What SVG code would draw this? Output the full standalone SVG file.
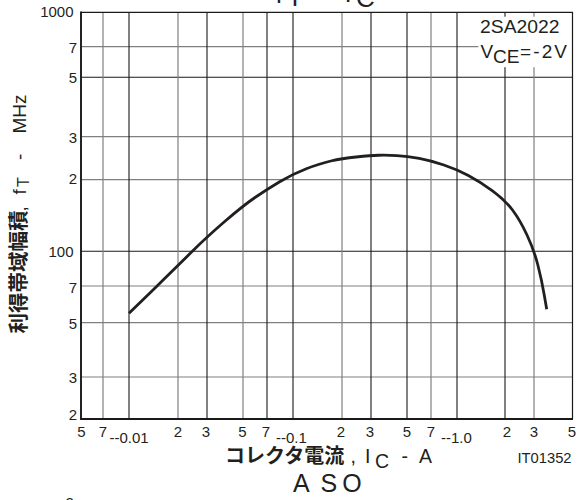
<svg xmlns="http://www.w3.org/2000/svg" width="577" height="500" viewBox="0 0 577 500">
<style>
.g1{stroke:#1a1a1a;stroke-width:1.1;fill:none}
.g2{stroke:#808080;stroke-width:1.2;fill:none}
.bd{stroke:#1a1a1a;fill:none}
.t{font-family:'Liberation Sans',Arial,sans-serif;fill:#231f20}
.tk{font-size:15px}
.jp{font-family:'Noto Sans CJK JP','Noto Sans CJK SC',sans-serif;font-weight:bold;fill:#231f20}
.cv{stroke:#231f20;stroke-width:2.8;fill:none;stroke-linejoin:round}
</style>
<rect width="577" height="500" fill="#fff"/>
<g id="title-top" class="t" font-size="26">
<text x="275.5" y="3">f</text>
<text x="287" y="6">T</text>
<text x="344.6" y="2">I</text>
<text x="356" y="6.5">C</text>
</g>
<g id="grid">
<path class="g2" d="M81,46.7H572.5M81,136.7H572.5M81,179.7H572.5M81,286H572.5M81,322.7H572.5M81,377H572.5"/>
<path class="g1" d="M81,77.3H572.5M81,251.3H572.5"/>
<path class="g2" d="M103,12.3V419M178,12.3V419M243,12.3V419M342,12.3V419M431,12.3V419M534,12.3V419"/>
<path class="g1" d="M129,12.3V419M207,12.3V419M267,12.3V419M293,12.3V419M371,12.3V419M407,12.3V419M457,12.3V419M505,12.3V419"/>
</g>
<rect id="legend-box" x="478.3" y="16.7" width="94" height="50.5" fill="#fff"/>
<g id="frame">
<path class="bd" stroke-width="1.2" d="M81,12.3H572.5V419"/>
<path class="bd" stroke-width="1.9" d="M81,11.5V419H573"/>
</g>
<g id="curve">
<path class="cv" d="M129,313.3 L153.5,289.4 Q178,265.5 192.35,251.25 Q206.7,237 225,221.25 Q243.3,205.5 255,197.5 Q266.7,189.5 279.7,181.75 Q292.7,174 306.35,168.75 Q320,163.5 330.85,161 Q341.7,158.5 356.2,157 Q370.7,155.5 378.7,155.25 Q386.7,155 397,155.6 Q407.3,156.2 419.15,158.45 Q431,160.7 443.85,165 Q456.7,169.3 468.35,175.5 Q480,181.7 492.5,190.85 Q505,200 512.5,210 Q520,220 527,235 Q534,250 537.85,265 Q541.7,280 544.2,294.65 L546.7,309.3"/>
</g>
<g id="legend" class="t">
<text x="480" y="33.3" font-size="19" textLength="79.5" lengthAdjust="spacingAndGlyphs">2SA2022</text>
<text y="58" font-size="19"><tspan x="480.5">V</tspan><tspan x="493" dy="4.5">CE</tspan><tspan x="520" dy="-4.5" textLength="47" lengthAdjust="spacing">=-2V</tspan></text>
</g>
<g id="y-ticks" class="t tk" text-anchor="end">
<text x="73.5" y="17.3">1000</text>
<text x="77" y="53">7</text>
<text x="77" y="83.3">5</text>
<text x="77" y="143.3">3</text>
<text x="77" y="184.3">2</text>
<text x="73.5" y="256.7">100</text>
<text x="77" y="292.7">7</text>
<text x="77" y="328.7">5</text>
<text x="77" y="383">3</text>
<text x="77" y="420">2</text>
</g>
<g id="x-ticks" class="t tk">
<g text-anchor="middle">
<text x="81.5" y="436.5">5</text>
<text x="103" y="436.5">7</text>
<text x="178" y="436.5">2</text>
<text x="206" y="436.5">3</text>
<text x="242.5" y="436.5">5</text>
<text x="266" y="436.5">7</text>
<text x="341" y="436.5">2</text>
<text x="370" y="436.5">3</text>
<text x="407" y="436.5">5</text>
<text x="431" y="436.5">7</text>
<text x="507" y="436.5">2</text>
<text x="534" y="436.5">3</text>
<text x="572" y="436.5">5</text>
</g>
<text x="109.5" y="443.3">--0.01</text>
<text x="276" y="443.3">--0.1</text>
<text x="441" y="443.3">--1.0</text>
</g>
<g id="x-title">
<text class="jp" x="225" y="463" font-size="20">コレクタ電流</text>
<text class="t" y="463" font-size="19.5"><tspan x="350.5">,</tspan><tspan x="365">I</tspan><tspan x="375" dy="5">C</tspan><tspan x="401.5" dy="-5">-</tspan><tspan x="419">A</tspan></text>
<text class="t" x="517.5" y="463.3" font-size="15" textLength="54" lengthAdjust="spacingAndGlyphs">IT01352</text>
</g>
<g id="y-title" transform="translate(25.5,333.5) rotate(-90)">
<text class="jp" x="0" y="0" font-size="20.5">利得帯域幅積</text>
<text class="t" y="0" font-size="19"><tspan x="122">,</tspan><tspan x="139">f</tspan><tspan x="146.5" dy="3" font-size="16">T</tspan><tspan x="173.5" dy="-3">-</tspan><tspan x="200">MHz</tspan></text>
</g>
<g id="next-title" class="t">
<text x="293" y="491.7" font-size="25"><tspan x="293">A</tspan><tspan x="320.5">S</tspan><tspan x="342.3">O</tspan></text>
<text x="65.5" y="508.4" font-size="15">2</text>
</g>
</svg>
